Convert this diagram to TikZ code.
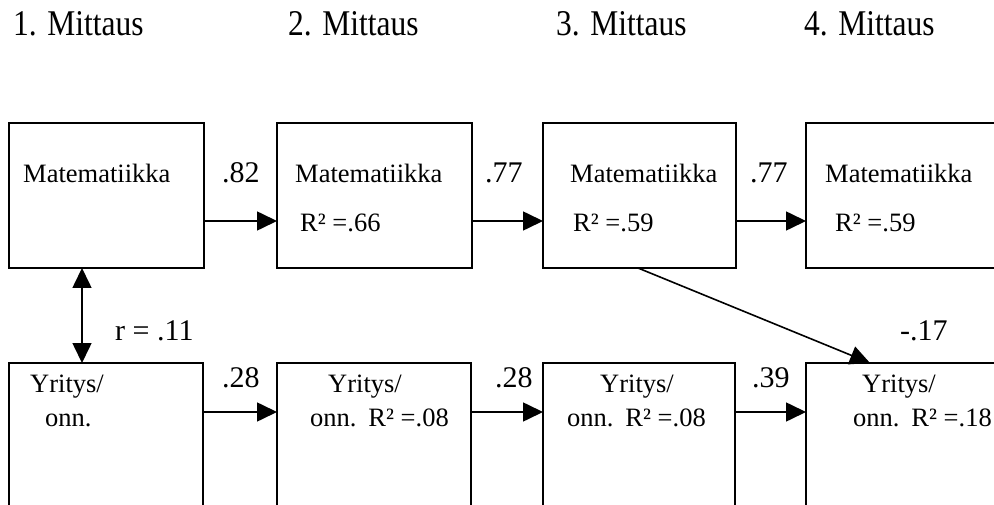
\documentclass[tikz,border=0pt]{standalone}
\usepackage{fontspec}
\usepackage{graphicx}
\setmainfont{Liberation Serif}
\usetikzlibrary{arrows.meta}
\begin{document}
\begin{tikzpicture}[x=1pt,y=-1pt,
  box/.style={draw,line width=1.6pt,rectangle,inner sep=0pt,outer sep=0pt,anchor=north west},
  hdr/.style={anchor=base west,inner sep=0pt,font=\fontsize{31.5}{36}\selectfont},
  txt/.style={anchor=base west,inner sep=0pt,text height=17pt,text depth=0pt,font=\fontsize{26.5}{31}\selectfont},
  num/.style={anchor=base west,inner sep=0pt,text height=20pt,text depth=0pt,font=\fontsize{30}{35}\selectfont},
  arr/.style={line width=1.6pt,-{Triangle[length=20pt,width=19pt]}},
  darr/.style={line width=1.6pt,{Triangle[length=20pt,width=19pt]}-{Triangle[length=20pt,width=19pt]}}]
\useasboundingbox (0,0) rectangle (994,505);
\fill[white] (0,0) rectangle (994,505);
% headers
\node[hdr] (h1) at (13,36) {\scalebox{1}[1.15]{1. Mittaus}};
\node[hdr] (h2) at (288,36) {\scalebox{1}[1.15]{2. Mittaus}};
\node[hdr] (h3) at (556,36) {\scalebox{1}[1.15]{3. Mittaus}};
\node[hdr] (h4) at (804,36) {\scalebox{1}[1.15]{4. Mittaus}};
% top boxes
\node[box,minimum width=195pt,minimum height=145pt] (m1) at (9,123) {};
\node[box,minimum width=195pt,minimum height=145pt] (m2) at (277,123) {};
\node[box,minimum width=193pt,minimum height=145pt] (m3) at (543,123) {};
\node[box,minimum width=210pt,minimum height=145pt] (m4) at (806,123) {};
% bottom boxes
\node[box,minimum width=194pt,minimum height=160pt] (y1) at (9,363) {};
\node[box,minimum width=194pt,minimum height=160pt] (y2) at (277,363) {};
\node[box,minimum width=192pt,minimum height=160pt] (y3) at (543,363) {};
\node[box,minimum width=210pt,minimum height=160pt] (y4) at (806,363) {};
% top texts
\node[txt] (t1) at (23,183) {Matematiikka};
\node[txt] (t2) at (295,183) {Matematiikka};
\node[txt] (t3) at (570,183) {Matematiikka};
\node[txt] (t4) at (825,183) {Matematiikka};
\node[txt] (r2) at (300,232) {R² =.66};
\node[txt] (r3) at (573,232) {R² =.59};
\node[txt] (r4) at (835,232) {R² =.59};
% bottom texts
\node[txt] (u1) at (30,392) {Yritys/};
\node[txt] (v1) at (45,426) {onn.};
\node[txt] (u2) at (328,392) {Yritys/};
\node[txt] (v2) at (310,426) {onn.\hspace{0.45em}R² =.08};
\node[txt] (u3) at (600,392) {Yritys/};
\node[txt] (v3) at (567,426) {onn.\hspace{0.45em}R² =.08};
\node[txt] (u4) at (862,392) {Yritys/};
\node[txt] (v4) at (853,426) {onn.\hspace{0.45em}R² =.18};
% coefficients
\node[num] (c1) at (222,183) {.82};
\node[num] (c2) at (485,183) {.77};
\node[num] (c3) at (750,183) {.77};
\node[num] (c4) at (222,387) {.28};
\node[num] (c5) at (495,387) {.28};
\node[num] (c6) at (752,387) {.39};
\node[num] (c7) at (900,340) {-.17};
\node[num] (c8) at (115,340) {r = .11};
% arrows
\draw[arr] (m1.east |- 0,221) -- (m2.west |- 0,221);
\draw[arr] (m2.east |- 0,221) -- (m3.west |- 0,221);
\draw[arr] (m3.east |- 0,221) -- (m4.west |- 0,221);
\draw[arr] (y1.east |- 0,412) -- (y2.west |- 0,412);
\draw[arr] (y2.east |- 0,412) -- (y3.west |- 0,412);
\draw[arr] (y3.east |- 0,412) -- (y4.west |- 0,412);
\draw[darr] ([xshift=73pt]m1.south west) -- ([xshift=73pt]y1.north west);
\draw[arr] ([xshift=95pt]m3.south west) -- ([xshift=64pt]y4.north west);
\end{tikzpicture}
\end{document}
